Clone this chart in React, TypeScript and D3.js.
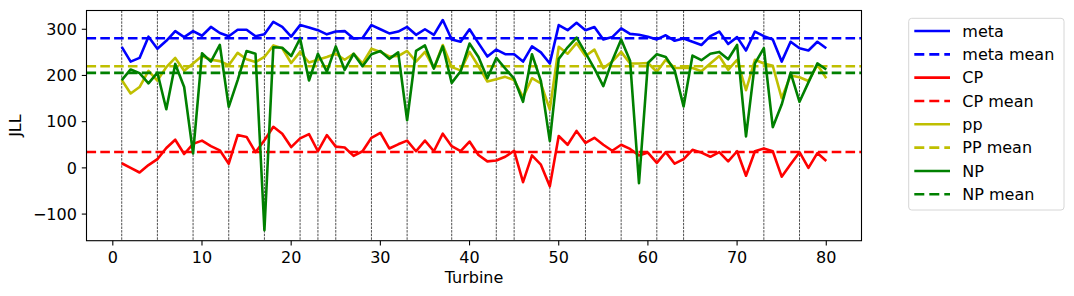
import React from "react";
import * as d3 from "d3";

// ---- data ----
const turbines: number[] = d3.range(1, 81);

const meta = [
  262, 230, 238, 284, 258, 275, 296, 283, 296, 286, 305, 292, 285, 299, 299, 285, 289, 316, 305, 284,
  309, 304, 298, 289, 295, 296, 280, 281, 309, 300, 291, 295, 305, 288, 300, 288, 320, 278, 273, 300,
  270, 241, 256, 246, 246, 230, 263, 250, 226, 309, 298, 314, 298, 305, 278, 283, 302, 290, 288, 284,
  278, 287, 275, 280, 273, 266, 285, 295, 268, 283, 254, 295, 285, 278, 230, 273, 259, 254, 273, 259,
];
const cp = [
  10, 0, -10, 6, 19, 43, 61, 30, 52, 59, 47, 38, 9, 71, 67, 34, 60, 89, 74, 45,
  64, 73, 36, 71, 46, 44, 26, 36, 65, 76, 42, 51, 59, 36, 59, 36, 74, 47, 36, 57,
  28, 14, 16, 24, 37, -31, 27, 7, -40, 69, 50, 80, 54, 65, 50, 37, 50, 41, 27, 33,
  11, 34, 9, 19, 39, 33, 24, 34, 14, 36, -17, 36, 42, 36, -19, 8, 34, 0, 32, 15,
];
const pp = [
  190, 161, 175, 210, 189, 218, 238, 210, 226, 242, 234, 231, 222, 249, 235, 229, 240, 265, 259, 227,
  251, 228, 234, 240, 247, 234, 247, 226, 258, 251, 241, 242, 253, 230, 251, 216, 266, 218, 211, 251,
  220, 187, 192, 197, 190, 153, 194, 183, 126, 262, 247, 270, 242, 256, 216, 230, 251, 226, 226, 227,
  208, 234, 216, 216, 216, 209, 226, 242, 212, 234, 168, 234, 226, 221, 151, 200, 196, 188, 223, 194,
];
const np = [
  190, 213, 205, 183, 206, 127, 225, 175, 31, 248, 230, 266, 132, 190, 253, 247, -135, 261, 260, 242,
  280, 189, 247, 208, 263, 212, 247, 220, 246, 253, 236, 250, 103, 253, 265, 215, 263, 184, 209, 269,
  240, 194, 238, 215, 193, 143, 246, 188, 58, 236, 261, 282, 249, 215, 177, 232, 278, 232, -33, 227,
  246, 240, 211, 133, 243, 233, 247, 251, 235, 266, 68, 226, 259, 88, 137, 206, 143, 185, 226, 213,
];

const metaMean = 280.5;
const cpMean = 34.5;
const ppMean = 220;
const npMean = 205.5;

const markerTurbines = [1, 5, 9, 13, 17, 21, 23, 25, 29, 33, 38, 43, 45, 49, 53, 57, 61, 64, 73, 77];

const xTicks = [0, 10, 20, 30, 40, 50, 60, 70, 80];
const yTicks = [-100, 0, 100, 200, 300];

const seriesNames = ["meta", "CP", "pp", "NP"];
const meanNames = ["meta mean", "CP mean", "PP mean", "NP mean"];
const seriesColors = ["#0000ff", "#ff0000", "#bfbf00", "#008000"];

// ---- layout ----
const W = 1074;
const H = 296;
const left = 86.5;
const right = 861.5;
const top = 10.5;
const bottom = 240.7;
const FONT = "DejaVu Sans, sans-serif";
const FS = 16;
const LW = 2.6;
const DASH = "9.6,4.2";

export default function App() {
  const x = d3.scaleLinear().domain([-2.95, 83.95]).range([left, right]);
  const y = d3.scaleLinear().domain([-157.6, 340.6]).range([bottom, top]);

  const seriesValues = [meta, cp, pp, np];
  const meanValues = [metaMean, cpMean, ppMean, npMean];

  const line = d3
    .line<number>()
    .x((_, i) => x(turbines[i]))
    .y((d) => y(d));

  const legendItems: { label: string; color: string; dashed: boolean }[] = [];
  seriesNames.forEach((n, i) => {
    legendItems.push({ label: n, color: seriesColors[i], dashed: false });
    legendItems.push({ label: meanNames[i], color: seriesColors[i], dashed: true });
  });

  const lgX = 908.7;
  const lgY = 18.3;
  const lgW = 155.3;
  const lgH = 191.7;
  const rowY0 = 31;
  const rowStep = 23.33;

  return (
    <svg
      width={W}
      height={H}
      style={{ position: "absolute", left: 0, top: 0, background: "#fff" }}
      fontFamily={FONT}
    >
      <rect x={0} y={0} width={W} height={H} fill="#fff" />
      <defs>
        <clipPath id="plotclip">
          <rect x={left} y={top} width={right - left} height={bottom - top} />
        </clipPath>
      </defs>

      <g clipPath="url(#plotclip)">
        {markerTurbines.map((t) => (
          <line
            key={"v" + t}
            x1={x(t)}
            x2={x(t)}
            y1={top}
            y2={bottom}
            stroke="#000"
            strokeWidth={0.7}
            strokeDasharray="2.5,1.1"
          />
        ))}
        {seriesValues.map((vals, i) => (
          <g key={"s" + i}>
            <path
              d={line(vals) || ""}
              fill="none"
              stroke={seriesColors[i]}
              strokeWidth={LW}
              strokeLinejoin="round"
              strokeLinecap="butt"
            />
            <line
              x1={left}
              x2={right}
              y1={y(meanValues[i])}
              y2={y(meanValues[i])}
              stroke={seriesColors[i]}
              strokeWidth={LW}
              strokeDasharray={DASH}
            />
          </g>
        ))}
      </g>

      {/* axes frame */}
      <rect x={left} y={top} width={right - left} height={bottom - top} fill="none" stroke="#000" strokeWidth={1.1} />

      {/* x ticks */}
      {xTicks.map((t) => (
        <g key={"xt" + t}>
          <line x1={x(t)} x2={x(t)} y1={bottom} y2={bottom + 4.7} stroke="#000" strokeWidth={1.1} />
          <text x={x(t)} y={bottom + 22.6} textAnchor="middle" fontSize={FS} fill="#000">
            {t}
          </text>
        </g>
      ))}
      {/* y ticks */}
      {yTicks.map((t) => (
        <g key={"yt" + t}>
          <line x1={left - 4.7} x2={left} y1={y(t)} y2={y(t)} stroke="#000" strokeWidth={1.1} />
          <text x={left - 9.6} y={y(t) + 5.8} textAnchor="end" fontSize={FS} fill="#000">
            {t < 0 ? "\u2212" + Math.abs(t) : String(t)}
          </text>
        </g>
      ))}

      <text x={(left + right) / 2} y={283.4} textAnchor="middle" fontSize={FS} fill="#000">
        Turbine
      </text>
      <text
        transform={`translate(20.5, ${(top + bottom) / 2}) rotate(-90)`}
        textAnchor="middle"
        fontSize={FS}
        fill="#000"
      >
        JLL
      </text>

      {/* legend */}
      <rect
        x={lgX}
        y={lgY}
        width={lgW}
        height={lgH}
        rx={3}
        ry={3}
        fill="#fff"
        fillOpacity={0.8}
        stroke="#d6d6d6"
        strokeWidth={1}
      />
      {legendItems.map((it, i) => {
        const ry = rowY0 + i * rowStep;
        return (
          <g key={"lg" + i}>
            <line
              x1={914.3}
              x2={950}
              y1={ry}
              y2={ry}
              stroke={it.color}
              strokeWidth={LW}
              strokeDasharray={it.dashed ? "10,5" : undefined}
            />
            <text x={962.3} y={ry + 5.8} fontSize={FS} fill="#000">
              {it.label}
            </text>
          </g>
        );
      })}
    </svg>
  );
}
